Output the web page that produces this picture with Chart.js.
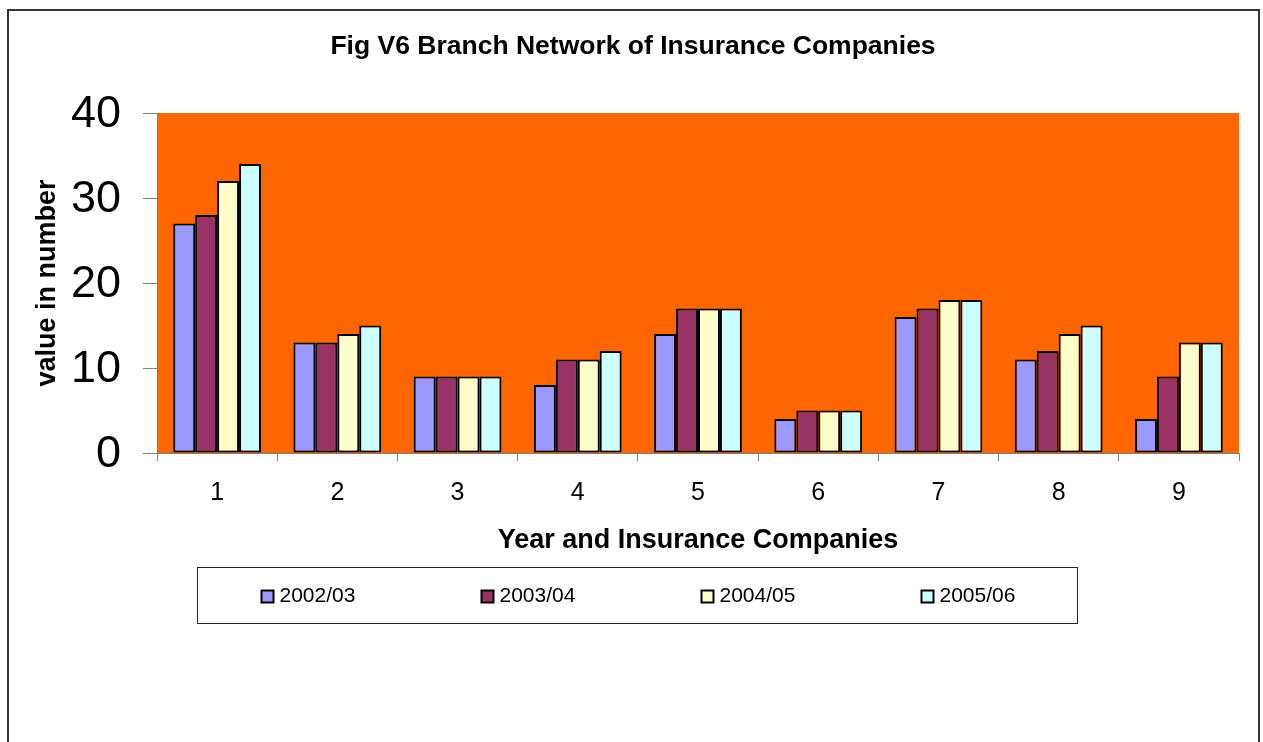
<!DOCTYPE html>
<html>
<head>
<meta charset="utf-8">
<title>Branch Network of Insurance Companies</title>
<script src="https://cdn.jsdelivr.net/npm/chart.js@4/dist/chart.umd.min.js"></script>
<style>
  html, body { margin: 0; padding: 0; background: #fff; }
  #wrap { width: 1263px; height: 742px; }
</style>
</head>
<body>
<div id="wrap"><canvas id="myChart" width="1263" height="742"></canvas></div>
<script>
const FONT = 'Arial, "Liberation Sans", Helvetica, sans-serif'

const companies = ['1', '2', '3', '4', '5', '6', '7', '8', '9']
const years = ['2002/03', '2003/04', '2004/05', '2005/06']
const yearColors = ['#9999FF', '#993366', '#FFFFCC', '#CCFFFF']

const branches0203 = [27, 13, 9, 8, 14, 4, 16, 11, 4]
const branches0304 = [28, 13, 9, 11, 17, 5, 17, 12, 9]
const branches0405 = [32, 14, 9, 11, 17, 5, 18, 14, 13]
const branches0506 = [34, 15, 9, 12, 17, 5, 18, 15, 13]

const yTicks = [0, 10, 20, 30, 40]

const series = [branches0203, branches0304, branches0405, branches0506]

// orange plot area + page frame + boxed legend
const chartDecor = {
    id: 'chartDecor',
    beforeDraw(chart) {
        const { ctx, chartArea: a } = chart
        ctx.save()
        ctx.fillStyle = '#FF6600'
        ctx.fillRect(a.left, a.top, a.right - a.left, a.bottom - a.top)
        ctx.restore()
    },
    afterDraw(chart) {
        const ctx = chart.ctx
        ctx.save()
        // outer frame, bottom edge runs off the page
        ctx.strokeStyle = '#333'
        ctx.lineWidth = 2
        ctx.strokeRect(8, 10, 1251, 900)

        // legend box
        const box = { x: 197.5, y: 567.5, w: 880, h: 56 }
        ctx.lineWidth = 1
        ctx.strokeStyle = '#222'
        ctx.strokeRect(box.x, box.y, box.w, box.h)

        const cell = box.w / chart.data.datasets.length
        ctx.font = '21px ' + FONT
        ctx.textBaseline = 'middle'
        ctx.textAlign = 'left'
        chart.data.datasets.forEach((ds, i) => {
            const sx = box.x + i * cell + 64
            const sy = box.y + box.h / 2 + 1
            ctx.fillStyle = ds.backgroundColor
            ctx.fillRect(sx, sy - 6, 12, 12)
            ctx.lineWidth = 2
            ctx.strokeStyle = '#000'
            ctx.strokeRect(sx, sy - 6, 12, 12)
            ctx.fillStyle = '#000'
            ctx.fillText(ds.label, sx + 18, sy)
        })
        ctx.restore()
    }
}

const ctx = document.getElementById('myChart').getContext('2d')
const myChart = new Chart(ctx, {
    type: 'bar',
    data: {
        labels: companies,
        datasets: years.map((y, i) => ({
            label: y,
            data: series[i],
            backgroundColor: yearColors[i],
            borderColor: '#000',
            borderWidth: 2,
            borderSkipped: false,
            categoryPercentage: 0.73,
            barPercentage: 1.0
        }))
    },
    options: {
        responsive: false,
        animation: false,
        layout: { padding: { left: 27, top: 10, right: 24, bottom: 185 } },
        plugins: {
            legend: { display: false },
            tooltip: { enabled: false },
            title: {
                display: true,
                text: 'Fig V6 Branch Network of Insurance Companies',
                color: '#000',
                font: { family: FONT, size: 26.5, weight: 'bold', lineHeight: 1.2 },
                padding: { top: 21, bottom: 50.2 }
            }
        },
        scales: {
            x: {
                offset: true,
                grid: { offset: true, drawOnChartArea: false, tickLength: 8, color: '#808080' },
                border: { color: '#808080', width: 1 },
                ticks: { color: '#000', padding: 17, font: { family: FONT, size: 25 } },
                title: {
                    display: true,
                    text: 'Year and Insurance Companies',
                    color: '#000',
                    font: { family: FONT, size: 27, weight: 'bold', lineHeight: 1.2 },
                    padding: { top: 0, bottom: 0 }
                },
                afterFit(scale) { scale.height = 104 }
            },
            y: {
                min: 0,
                max: 40,
                afterBuildTicks(scale) { scale.ticks = yTicks.map(v => ({ value: v })) },
                grid: { drawOnChartArea: false, tickLength: 14, color: '#808080' },
                border: { color: '#808080', width: 1 },
                ticks: { color: '#000', padding: 22, labelOffset: 2, font: { family: FONT, size: 45 } },
                title: {
                    display: true,
                    text: 'value in number',
                    color: '#000',
                    font: { family: FONT, size: 27, weight: 'bold', lineHeight: 1.2 },
                    padding: { top: 4, bottom: 0 }
                },
                afterFit(scale) { scale.width = 130 }
            }
        }
    },
    plugins: [chartDecor]
})
</script>
</body>
</html>
